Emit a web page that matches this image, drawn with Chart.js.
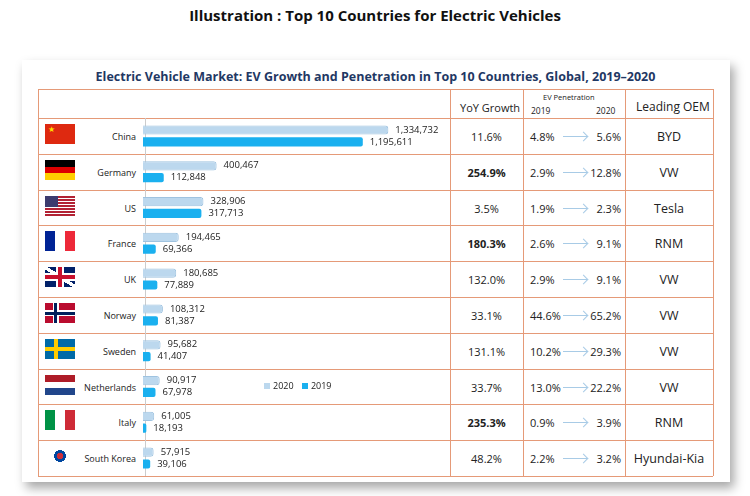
<!DOCTYPE html>
<html>
<head>
<meta charset="utf-8">
<script src="https://cdn.jsdelivr.net/npm/chart.js@4"></script>
<style>
  body { margin: 0; width: 750px; height: 496px; background: #fff; font-family: "Open Sans", sans-serif; position: relative; overflow: hidden; }
  #top { position: absolute; top: 5px; left: 0; width: 750px; text-align: center; font-weight: bold; font-size: 15px; color: #111; }
  #panel { position: absolute; left: 22px; top: 60px; width: 708px; height: 422px; background: #fff; box-shadow: 4px 6px 10px rgba(0,0,0,0.35); }
  #ctitle { position: absolute; top: 68px; left: 38px; width: 675px; text-align: center; font-weight: bold; font-size: 12.5px; color: #1f3864; }
  .hl { position: absolute; height: 1px; background: #e59a78; left: 38px; width: 675px; }
  .vl { position: absolute; width: 1px; background: #e59a78; top: 89px; height: 387px; }
  .cell { position: absolute; display: flex; align-items: center; justify-content: center; font-size: 11px; color: #222; height: 36px; }
  .name { position: absolute; font-size: 9px; color: #222; text-align: right; width: 80px; left: 56px; height: 36px; display: flex; align-items: center; justify-content: flex-end; }
  .flag { position: absolute; left: 45px; width: 30px; height: 20px; overflow: hidden; }
  .hdr { position: absolute; font-size: 11px; color: #222; }
  .arrow { position: absolute; height: 1px; background: #a8cbe6; width: 24px; }
  .arrow::after { content: ""; position: absolute; right: 0; top: -3px; width: 6px; height: 6px; border-top: 1px solid #a8cbe6; border-right: 1px solid #a8cbe6; transform: rotate(45deg); }
  #chartBox { position: absolute; left: 143px; top: 118px; width: 307px; height: 358px; }
  #legend { position: absolute; left: 258px; top: 379px; font-size: 9px; color: #222; }
  #legend span.sw { display: inline-block; width: 6px; height: 6px; margin: 0 3px 0 6px; }
</style>
</head>
<body>
<div id="top">Illustration : Top 10 Countries for Electric Vehicles</div>
<div id="panel"></div>
<div id="ctitle">Electric Vehicle Market: EV Growth and Penetration in Top 10 Countries, Global, 2019–2020</div>
<div id="grid"></div>
<div id="chartBox"><canvas id="barChart"></canvas></div>
<div id="legend"><span class="sw" style="background:#bcd8ee"></span>2020 <span class="sw" style="background:#1ab0ef"></span>2019</div>

<script>
"use strict";

const countries = ['China', 'Germany', 'US', 'France', 'UK', 'Norway', 'Sweden', 'Netherlands', 'Italy', 'South Korea'];
const sales2020 = [1334732, 400467, 328906, 194465, 180685, 108312, 95682, 90917, 61005, 57915];
const sales2019 = [1195611, 112848, 317713, 69366, 77889, 81387, 41407, 67978, 18193, 39106];
const yoyGrowth = ['11.6%', '254.9%', '3.5%', '180.3%', '132.0%', '33.1%', '131.1%', '33.7%', '235.3%', '48.2%'];
const boldGrowth = [false, true, false, true, false, false, false, false, true, false];
const pen2019 = ['4.8%', '2.9%', '1.9%', '2.6%', '2.9%', '44.6%', '10.2%', '13.0%', '0.9%', '2.2%'];
const pen2020 = ['5.6%', '12.8%', '2.3%', '9.1%', '9.1%', '65.2%', '29.3%', '22.2%', '3.9%', '3.2%'];
const leadingOem = ['BYD', 'VW', 'Tesla', 'RNM', 'VW', 'VW', 'VW', 'VW', 'RNM', 'Hyundai-Kia'];

const flags = [
    'background:#de2910;color:#ffde00;font-size:8px;line-height:10px;padding-left:3px;box-sizing:border-box',
    'background:linear-gradient(#000 33%,#dd0000 33% 66%,#ffce00 66%)',
    'background:linear-gradient(#3c3b6e,#3c3b6e) 0 0/13px 11px no-repeat,repeating-linear-gradient(#b22234 0 1.5px,#fff 1.5px 3px)',
    'background:linear-gradient(90deg,#002395 33%,#fff 33% 66%,#ed2939 66%)',
    'background:linear-gradient(#c8102e,#c8102e) 13px 0/4px 20px no-repeat,linear-gradient(#c8102e,#c8102e) 0 8px/30px 4px no-repeat,linear-gradient(#fff,#fff) 11px 0/8px 20px no-repeat,linear-gradient(#fff,#fff) 0 6px/30px 8px no-repeat,linear-gradient(33deg,#012169 45%,#fff 45% 55%,#012169 55%)',
    'background:linear-gradient(#00205b,#00205b) 9px 0/3px 20px no-repeat,linear-gradient(#00205b,#00205b) 0 8.5px/30px 3px no-repeat,linear-gradient(#fff,#fff) 7.5px 0/6px 20px no-repeat,linear-gradient(#fff,#fff) 0 7px/30px 6px no-repeat,#ba0c2f',
    'background:linear-gradient(#fecc00,#fecc00) 9px 0/4px 20px no-repeat,linear-gradient(#fecc00,#fecc00) 0 8px/30px 4px no-repeat,#006aa7',
    'background:linear-gradient(#ae1c28 33%,#fff 33% 66%,#21468b 66%)',
    'background:linear-gradient(90deg,#009246 33%,#fff 33% 66%,#ce2b37 66%)',
    'background:radial-gradient(circle at 50% 50%,#cd2e3a 0 3px,#0047a0 3px 6px,transparent 6px),#fff'
];

const rowTop = 118, rowH = 35.8;
const grid = document.getElementById('grid');
function add(html) { grid.insertAdjacentHTML('beforeend', html); }

// rammar
add('<div class="hl" style="top:89px"></div>');
for (let i = 0; i <= countries.length; i++) {
    add(`<div class="hl" style="top:${Math.round(rowTop + i * rowH)}px"></div>`);
}
[38, 450, 523, 625, 713].forEach(x => add(`<div class="vl" style="left:${x}px"></div>`));
add(`<div style="position:absolute;left:145px;top:118px;width:1px;height:358px;background:#ccc"></div>`);

// rubriker
add('<div class="hdr" style="left:460px;top:100px">YoY Growth</div>');
add('<div class="hdr" style="left:543px;top:92px;font-size:7.5px">EV Penetration</div>');
add('<div class="hdr" style="left:531px;top:105px;font-size:8.5px">2019</div>');
add('<div class="hdr" style="left:596px;top:105px;font-size:8.5px">2020</div>');
add('<div class="hdr" style="left:636px;top:98px;font-size:12px">Leading OEM</div>');

countries.forEach((c, i) => {
    const top = Math.round(rowTop + i * rowH);
    add(`<div class="flag" style="top:${top + 6}px;${flags[i]}">${i === 0 ? '★' : ''}</div>`);
    add(`<div class="name" style="top:${top}px">${c}</div>`);
    add(`<div class="cell" style="left:450px;width:73px;top:${top}px;${boldGrowth[i] ? 'font-weight:bold' : ''}">${yoyGrowth[i]}</div>`);
    add(`<div class="cell" style="left:530px;width:30px;top:${top}px;justify-content:flex-start">${pen2019[i]}</div>`);
    add(`<div class="arrow" style="left:563px;top:${top + 18}px"></div>`);
    add(`<div class="cell" style="left:585px;width:36px;top:${top}px;justify-content:flex-end">${pen2020[i]}</div>`);
    add(`<div class="cell" style="left:625px;width:88px;top:${top}px;font-size:12.5px">${leadingOem[i]}</div>`);
});

// Etiketter vid stapelns slut
const valueLabels = {
    id: 'valueLabels',
    afterDatasetsDraw(chart) {
        const ctx = chart.ctx;
        ctx.save();
        ctx.font = '9.5px "Open Sans"';
        ctx.fillStyle = '#222';
        ctx.textBaseline = 'middle';
        chart.data.datasets.forEach((ds, di) => {
            chart.getDatasetMeta(di).data.forEach((bar, i) => {
                ctx.fillText(ds.data[i].toLocaleString('en-US'), bar.x + 7, bar.y);
            });
        });
        ctx.restore();
    }
};

new Chart(document.getElementById('barChart'), {
    type: 'bar',
    data: {
        labels: countries,
        datasets: [
            { label: '2020', data: sales2020, backgroundColor: '#bcd8ee', borderColor: '#9fc3e0', borderWidth: 1, borderRadius: 3, borderSkipped: 'left' },
            { label: '2019', data: sales2019, backgroundColor: '#1ab0ef', borderRadius: 2, borderSkipped: 'left' }
        ]
    },
    options: {
        indexAxis: 'y',
        responsive: true,
        maintainAspectRatio: false,
        animation: false,
        categoryPercentage: 0.66,
        barPercentage: 0.78,
        layout: { padding: 0 },
        scales: {
            x: { display: false, min: 0, max: 1670000 },
            y: { display: false }
        },
        plugins: { legend: { display: false }, tooltip: { enabled: false } }
    },
    plugins: [valueLabels]
});
</script>
</body>
</html>
